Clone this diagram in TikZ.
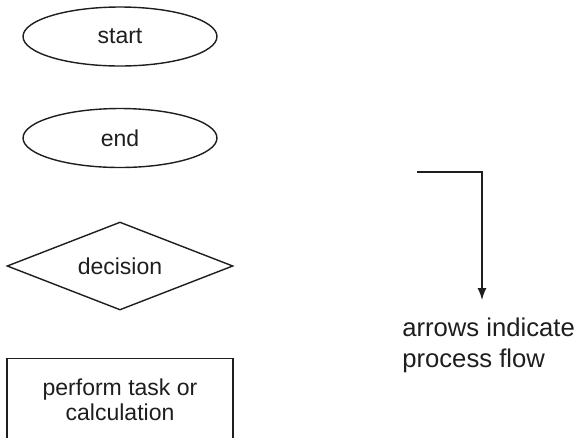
\documentclass[tikz,border=0pt]{standalone}
\usepackage{fontspec}
\setmainfont{Liberation Sans}
\usepackage{tikz}
\usetikzlibrary{shapes}
\usetikzlibrary{arrows.meta}

\definecolor{inkgray}{RGB}{30,30,30}

\tikzset{
	shapetext/.style = {text=inkgray, font=\fontsize{13.1}{14.2}\selectfont},
	terminal/.style = {draw=inkgray, ellipse, line width=0.8pt, inner sep=0pt,
		minimum width=3.88cm, minimum height=1.18cm, shapetext},
	decision/.style = {draw=inkgray, diamond, aspect=2.57, line width=0.8pt, inner sep=0pt,
		minimum width=4.52cm, minimum height=1.76cm, shapetext},
	flow/.style = {draw=inkgray, line width=0.8pt, -{Latex[length=0.24cm, width=0.18cm]}}
}

\begin{document}
\begin{tikzpicture}[x=0.02cm, y=-0.02cm]
		\clip (0, 0) rectangle (578, 437);

		\node[terminal] (start) at (120, 36.5) {start};
		\node[terminal] (end) at (120, 138) {end};
		\node[decision] (choice) at (120, 266) {decision};
		% box runs off the bottom of the page
		\node[draw=inkgray, line width=0.8pt, anchor=north, minimum width=4.52cm, minimum height=2.4cm] (taskbox) at (120, 358) {};
		\node[shapetext, align=center, inner sep=0pt, anchor=base] (task) at (120, 420) {perform task or\\calculation};

		\coordinate (flowstart) at (417, 172);
		\coordinate (flowend) at (482, 300);
		\path[flow] (flowstart) -| (flowend);

		\node[text=inkgray, font=\fontsize{14.6}{17.1}\selectfont, align=left, inner sep=0pt, anchor=base west] (legend) at (402, 367) {arrows indicate\\process flow};
\end{tikzpicture}
\end{document}
